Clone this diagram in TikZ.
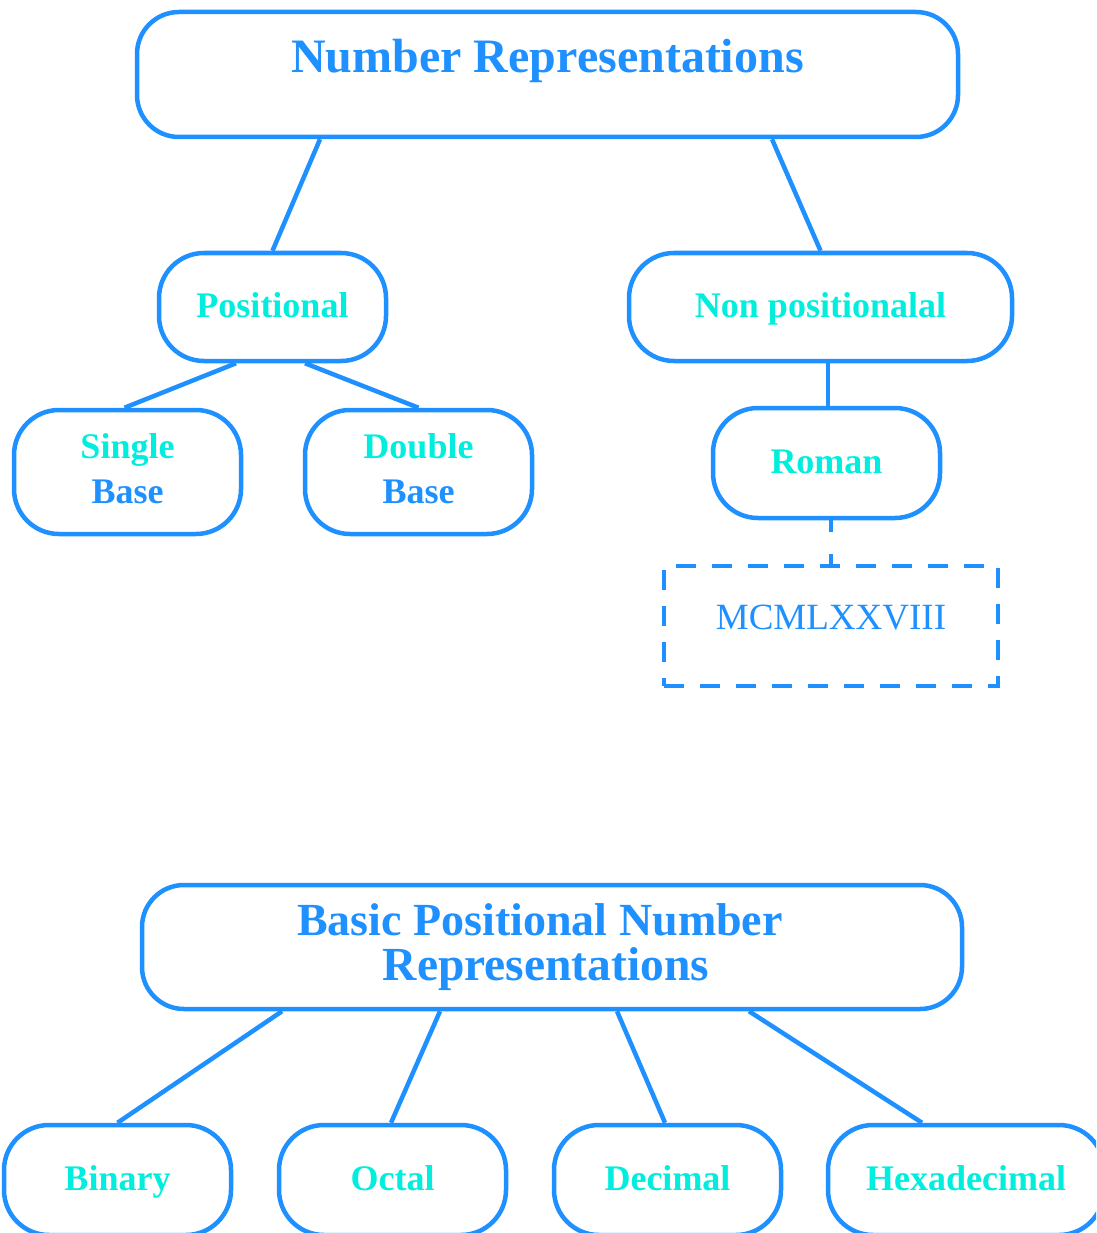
\documentclass[tikz,border=0pt]{standalone}
\usepackage{fontspec}
\setmainfont{Liberation Serif}
\definecolor{lineblue}{RGB}{30,144,255}
\definecolor{tealtext}{RGB}{0,238,221}

\begin{document}
\begin{tikzpicture}[x=1pt,y=1pt,
  box/.style={draw=lineblue, line width=4.5pt, rounded corners=45pt, fill=white,
              inner sep=0pt, align=center},
  leaf/.style={box, minimum width=227pt, text=tealtext,
               font=\fontsize{36}{45}\selectfont\bfseries,
               text height=25pt, text depth=5pt},
  twoline/.style={text height=70pt, text depth=8pt},
  title/.style={box, rounded corners=42pt, text=lineblue,
                font=\fontsize{47}{45}\selectfont\bfseries},
  link/.style={draw=lineblue, line width=4.5pt},
]
\useasboundingbox (0,0) rectangle (1096,-1233);
\clip (0,0) rectangle (1096,-1233);

% upper tree
\node[title, minimum width=821pt, minimum height=125pt,
      font=\fontsize{48}{45}\selectfont\bfseries,
      text height=33pt, text depth=36pt] (top) at (547.5,-74.5) {Number Representations};
\node[leaf, minimum height=108pt] (pos) at (272.5,-307) {Positional};
\node[leaf, minimum width=383pt, minimum height=108pt] (non) at (820.5,-307) {Non positionalal};
\node[leaf, twoline, minimum height=124pt] (single) at (127.5,-472) {Single\\\textcolor{lineblue}{Base}};
\node[leaf, twoline, minimum height=124pt] (double) at (418.5,-472) {Double\\\textcolor{lineblue}{Base}};
\node[leaf, minimum height=110pt] (roman) at (826.5,-463) {Roman};
\node[draw=lineblue, line width=4.5pt, dash pattern=on 20pt off 16pt, fill=white,
      inner sep=0pt, minimum width=334pt, minimum height=120pt, text=lineblue,
      font=\fontsize{37}{44}\selectfont, text height=26pt, text depth=20pt]
      (mcml) at (831,-626) {MCMLXXVIII};

\draw[link] ([xshift=-227.5pt]top.south) -- (pos.north);
\draw[link] ([xshift=224.5pt]top.south) -- (non.north);
\draw[link] ([xshift=-36.5pt]pos.south) -- ([xshift=-3pt]single.north);
\draw[link] ([xshift=32.5pt]pos.south) -- (double.north);
\draw[link] ([xshift=1.5pt]roman.north |- non.south) -- ([xshift=1.5pt]roman.north);
\draw[link, dash pattern=on 12pt off 22pt] (roman.south -| mcml.north) -- (mcml.north);

% lower tree
\node[title, minimum width=820pt, minimum height=124pt,
      font=\fontsize{46}{45}\selectfont\bfseries] (basic) at (552,-947)
      {Basic Positional Number\hspace*{24pt}\\
       \fontsize{47.5}{45}\selectfont Representations\hspace*{12pt}};
\node[leaf, minimum height=110pt] (binary) at (117.5,-1180) {Binary};
\node[leaf, minimum height=110pt] (octal) at (392.5,-1180) {Octal};
\node[leaf, minimum height=110pt] (decimal) at (667.5,-1180) {Decimal};
\node[leaf, minimum width=276pt, minimum height=110pt] (hexa) at (966,-1180) {Hexadecimal};

\draw[link] ([xshift=-270pt]basic.south) -- (binary.north);
\draw[link] ([xshift=-112pt]basic.south) -- ([xshift=-1.5pt]octal.north);
\draw[link] ([xshift=65pt]basic.south) -- ([xshift=-2.5pt]decimal.north);
\draw[link] ([xshift=197pt]basic.south) -- ([xshift=-44pt]hexa.north);
\end{tikzpicture}
\end{document}
